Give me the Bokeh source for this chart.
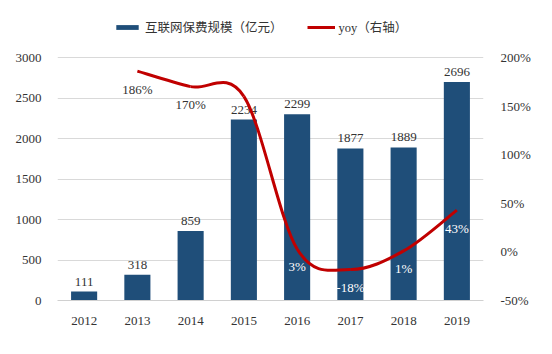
from bokeh.plotting import figure
from bokeh.models import (Range1d, LinearAxis, FixedTicker, PrintfTickFormatter,
                          ColumnDataSource, Legend, LegendItem)
from bokeh.core.properties import value
from bokeh.embed import file_html
from bokeh.resources import INLINE

years = ["2012", "2013", "2014", "2015", "2016", "2017", "2018", "2019"]
premium = [111, 318, 859, 2234, 2299, 1877, 1889, 2696]
yoy_years_idx = [1, 2, 3, 4, 5, 6, 7]
yoy = [186, 170, 160, 3, -18, 1, 43]
yoy_labels = ["186%", "170%", "", "3%", "-18%", "1%", "43%"]
yoy_label_colors = ["#333333", "#333333", "#333333", "white", "white", "white", "white"]
left_ticks = [0, 500, 1000, 1500, 2000, 2500, 3000]
right_ticks = [-50, 0, 50, 100, 150, 200]

BAR = "#1F4E79"
RED = "#C00000"
SERIF = "Liberation Serif, 'Noto Sans CJK SC'"

# the frame extends above the top gridline to hold the legend
PLOT_H = 243.0   # pixels from 0 to 3000
EXTRA = 40.0     # pixels of room above the top gridline
left_top = left_ticks[-1] + (left_ticks[-1] - left_ticks[0]) * EXTRA / PLOT_H
right_top = right_ticks[-1] + (right_ticks[-1] - right_ticks[0]) * EXTRA / PLOT_H

xs = list(range(len(years)))

p = figure(width=552, height=354, output_backend="svg", toolbar_location=None,
           x_range=Range1d(-0.5, len(years) - 0.5), y_range=Range1d(0, left_top),
           min_border_left=57, min_border_right=69, min_border_top=17, min_border_bottom=54)
p.extra_y_ranges = {"yoy": Range1d(right_ticks[0], right_top)}
p.outline_line_color = None
p.background_fill_color = "white"
p.border_fill_color = "white"

# axes
p.xaxis.ticker = FixedTicker(ticks=xs)
p.xaxis.major_label_overrides = {i: y for i, y in enumerate(years)}
p.xaxis.axis_line_color = "#d0d0d0"
p.xaxis.major_tick_line_color = None
p.xaxis.minor_tick_line_color = None
p.xaxis.major_label_standoff = 10
p.xaxis.major_label_text_font = SERIF
p.xaxis.major_label_text_font_size = "13px"
p.xaxis.major_label_text_color = "#333333"

p.yaxis.ticker = FixedTicker(ticks=left_ticks)
p.yaxis.axis_line_color = None
p.yaxis.major_tick_line_color = None
p.yaxis.minor_tick_line_color = None
p.yaxis.major_label_standoff = 10
p.yaxis.major_label_text_font = SERIF
p.yaxis.major_label_text_font_size = "13px"
p.yaxis.major_label_text_color = "#333333"

ra = LinearAxis(y_range_name="yoy", ticker=FixedTicker(ticks=right_ticks),
                formatter=PrintfTickFormatter(format="%d%%"))
ra.axis_line_color = None
ra.major_tick_line_color = None
ra.minor_tick_line_color = None
ra.major_label_standoff = 11
ra.major_label_text_font = SERIF
ra.major_label_text_font_size = "13px"
ra.major_label_text_color = "#333333"
p.add_layout(ra, "right")

p.xgrid.grid_line_color = None
p.ygrid.grid_line_color = "#d9d9d9"
p.ygrid.grid_line_width = 1

# bars
src = ColumnDataSource(dict(x=xs, v=premium, t=[str(v) for v in premium]))
bars = p.vbar(x="x", top="v", width=0.49, source=src, fill_color=BAR, line_color=None)
p.text(x="x", y="v", text="t", source=src, text_align="center", text_baseline="bottom",
       y_offset=-6, text_font=value("Liberation Serif"), text_font_size="13px",
       text_color="#333333")

# smoothed yoy line (Bezier segments built from the data points)
px = [float(i) for i in yoy_years_idx]
py = [float(v) for v in yoy]
n = len(px)
x0, y0, x1, y1, cx0, cy0, cx1, cy1 = [], [], [], [], [], [], [], []
for i in range(n - 1):
    pm = i - 1 if i > 0 else i
    pp = i + 2 if i + 2 < n else i + 1
    x0.append(px[i]); y0.append(py[i]); x1.append(px[i + 1]); y1.append(py[i + 1])
    cx0.append(px[i] + (px[i + 1] - px[pm]) / 6.0)
    cy0.append(py[i] + (py[i + 1] - py[pm]) / 6.0)
    cx1.append(px[i + 1] - (px[pp] - px[i]) / 6.0)
    cy1.append(py[i + 1] - (py[pp] - py[i]) / 6.0)
bz = p.bezier(x0=x0, y0=y0, x1=x1, y1=y1, cx0=cx0, cy0=cy0, cx1=cx1, cy1=cy1,
              line_color=RED, line_width=3, y_range_name="yoy")

lsrc = ColumnDataSource(dict(x=px, y=py, t=yoy_labels, c=yoy_label_colors))
p.text(x="x", y="y", text="t", text_color="c", source=lsrc, y_range_name="yoy",
       text_align="center", text_baseline="middle", y_offset=18,
       text_font=value("Liberation Serif"), text_font_size="13px")

legend = Legend(items=[LegendItem(label="互联网保费规模（亿元）", renderers=[bars]),
                       LegendItem(label="yoy（右轴）", renderers=[bz])],
                orientation="horizontal", location=(56, 264),
                glyph_width=28, glyph_height=6, label_height=14, label_standoff=4,
                spacing=24, padding=0, margin=0,
                background_fill_alpha=0, border_line_color=None,
                label_text_font=SERIF, label_text_font_size="12.5px",
                label_text_color="#333333")
p.add_layout(legend, "center")

open("out.html", "w").write(file_html(p, INLINE))
